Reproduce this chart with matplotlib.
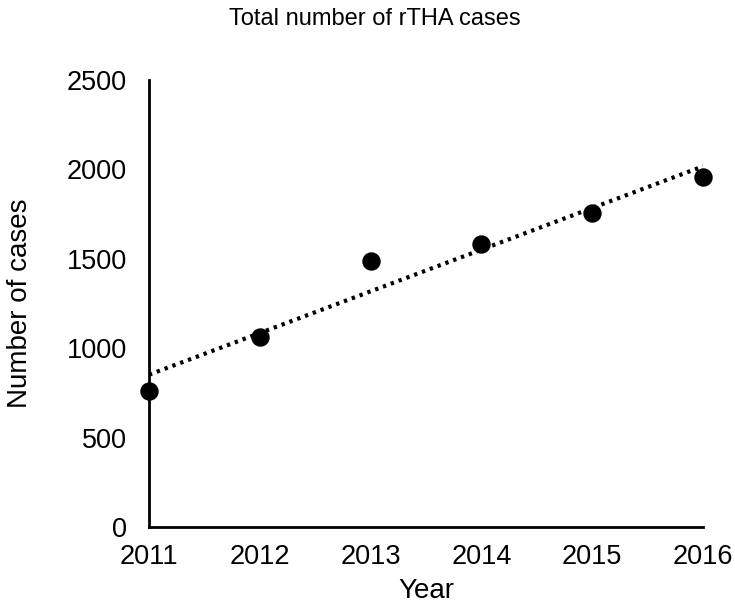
import matplotlib
matplotlib.use("Agg")
import matplotlib.pyplot as plt
import numpy as np

plt.rcParams['font.family'] = ['Liberation Sans', 'DejaVu Sans']

years = [2011, 2012, 2013, 2014, 2015, 2016]
cases = [760, 1063, 1488, 1583, 1756, 1957]
y_ticks = [0, 500, 1000, 1500, 2000, 2500]

fig = plt.figure(figsize=(7.35, 6.08), dpi=100)
ax = fig.add_axes([0.2027, 0.1332, 0.7537, 0.7352])

# linear trend line
coef = np.polyfit(years, cases, 1)
trend = np.polyval(coef, years)
ax.plot(years, trend, color='black', linestyle=(0, (0.8, 1.2)), linewidth=3, zorder=2)

ax.scatter(years, cases, s=150, color='black', zorder=3, clip_on=False)

ax.set_xlim(2011, 2016)
ax.set_ylim(0, 2500)
ax.set_xticks(years)
ax.set_yticks(y_ticks)
ax.tick_params(length=0, labelsize=19.5, pad=12)
ax.tick_params(axis='y', pad=16)
for side in ['top', 'right']:
    ax.spines[side].set_visible(False)
for side in ['left', 'bottom']:
    ax.spines[side].set_linewidth(2)

fig.text(0.51, 0.968, 'Total number of rTHA cases', fontsize=17, ha='center', va='center')
ax.set_xlabel('Year', fontsize=20, labelpad=6)
ax.set_ylabel('Number of cases', fontsize=20, labelpad=24)

fig.savefig('out.png', dpi=100)
